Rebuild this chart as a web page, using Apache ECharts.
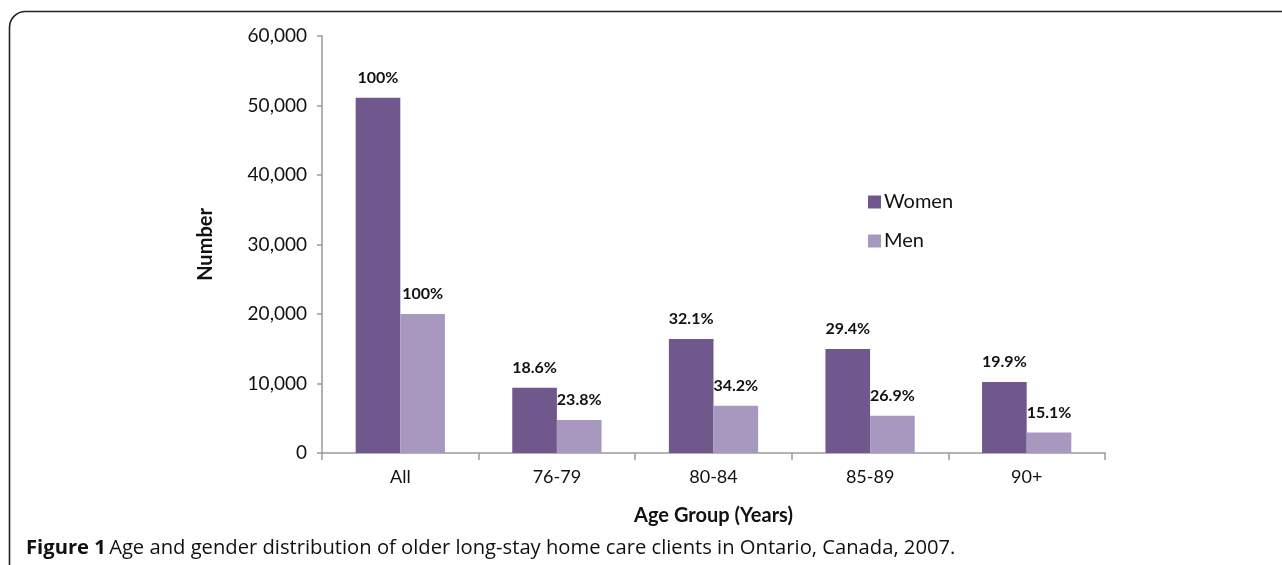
<!DOCTYPE html>
<html><head><meta charset="utf-8">
<script src="https://cdn.jsdelivr.net/npm/echarts@6/dist/echarts.min.js"></script>
<style>html,body{margin:0;padding:0;background:#fff}#c{width:1282px;height:565px}</style>
</head><body><div id="c"></div>
<script>
const categories = ['All', '76-79', '80-84', '85-89', '90+'];
const women = [51100, 9400, 16400, 14950, 10200];
const men = [20000, 4750, 6800, 5350, 2950];
const womenPct = ['100%', '18.6%', '32.1%', '29.4%', '19.9%'];
const menPct = ['100%', '23.8%', '34.2%', '26.9%', '15.1%'];
const yTicks = [0, 10000, 20000, 30000, 40000, 50000, 60000];

const chart = echarts.init(document.getElementById('c'), null, {renderer: 'canvas'});
const F = 'Lato, "Open Sans", sans-serif';
const labelStyle = {show: true, position: 'top', distance: 12, fontFamily: F, fontWeight: 'bold', fontSize: 16, color: '#111'};
chart.setOption({
  animation: false,
  textStyle: {fontFamily: F},
  grid: {left: 322, right: 177, top: 36, bottom: 112, containLabel: false},
  legend: {
    orient: 'vertical', left: 863, top: 187, itemWidth: 13, itemHeight: 13, itemGap: 19,
    textStyle: {fontFamily: F, fontSize: 20, color: '#111', padding: [0, 0, 0, -2]},
    data: ['Women', 'Men'], icon: 'rect'
  },
  xAxis: {
    type: 'category', data: categories,
    name: 'Age Group (Years)', nameLocation: 'middle', nameGap: 53,
    nameTextStyle: {fontFamily: F, fontWeight: 'bold', fontSize: 20, color: '#111'},
    axisLine: {lineStyle: {color: '#9a9a9a', width: 1.5}},
    axisTick: {show: true, length: 7, lineStyle: {color: '#9a9a9a', width: 1.5}},
    axisLabel: {fontFamily: F, fontSize: 18, color: '#111', margin: 15}
  },
  yAxis: {
    type: 'value', min: yTicks[0], max: yTicks[yTicks.length - 1], interval: 10000,
    name: 'Number', nameLocation: 'middle', nameGap: 106, nameRotate: 90,
    nameTextStyle: {fontFamily: F, fontWeight: 'bold', fontSize: 20, color: '#111'},
    axisLine: {show: true, lineStyle: {color: '#9a9a9a', width: 1.5}},
    axisTick: {show: true, length: 5, lineStyle: {color: '#9a9a9a', width: 1.5}},
    splitLine: {show: false},
    axisLabel: {fontFamily: F, fontSize: 19, color: '#111', margin: 15,
      formatter: v => v.toLocaleString('en-US')}
  },
  series: [
    {name: 'Women', type: 'bar', data: women, barWidth: '28.5%', barGap: '0%',
     itemStyle: {color: '#70588d'},
     label: Object.assign({}, labelStyle, {formatter: p => womenPct[p.dataIndex]})},
    {name: 'Men', type: 'bar', data: men, barWidth: '28.5%',
     itemStyle: {color: '#a898c0'},
     label: Object.assign({}, labelStyle, {formatter: p => menPct[p.dataIndex]})}
  ],
  graphic: [
    {type: 'rect', shape: {x: 9.5, y: 11.5, width: 1400, height: 700, r: 16}, silent: true,
     style: {fill: 'none', stroke: '#222', lineWidth: 1.6}},
    {type: 'text', left: 26, top: 538, silent: true,
     style: {
       text: '{b|Figure 1} {r|Age and gender distribution of older long-stay home care clients in Ontario, Canada, 2007.}',
       rich: {
         b: {fontFamily: '"Open Sans", sans-serif', fontWeight: 'bold', fontSize: 20.2, fill: '#111'},
         r: {fontFamily: '"Open Sans", sans-serif', fontWeight: 'normal', fontSize: 20.2, fill: '#111'}
       }
     }}
  ]
});
</script></body></html>
